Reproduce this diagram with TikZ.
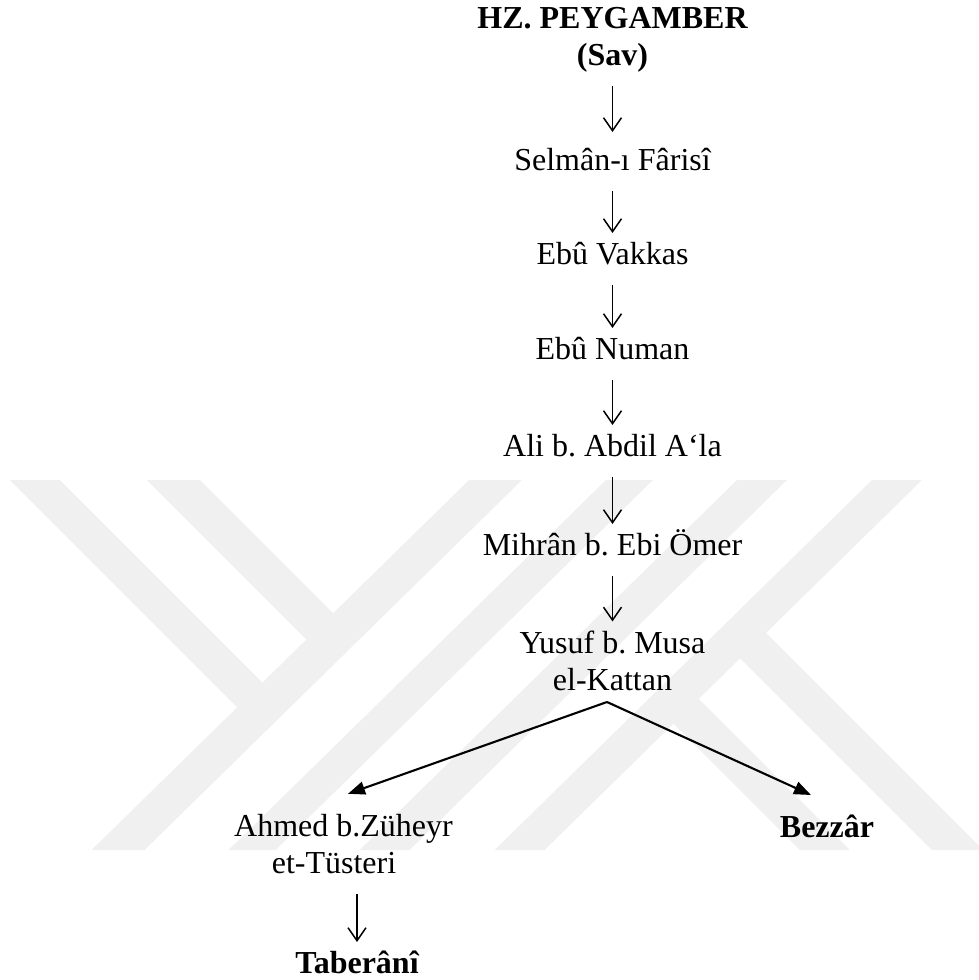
\documentclass[tikz,border=0pt]{standalone}
\usepackage{fontspec}
\setmainfont{Liberation Serif}
\usetikzlibrary{arrows.meta}
\newcommand{\dstrut}{\rule[-7pt]{0pt}{22pt}}

\begin{document}
\begin{tikzpicture}[x=1pt,y=-1pt,
  ravi/.style={anchor=base,inner sep=0pt,outer sep=0pt,align=center,
    font=\fontsize{32}{37}\selectfont\frenchspacing,text height=22pt,execute at end node=\dstrut},
  tworavi/.style={ravi,text height=},
  boldravi/.style={ravi,font=\fontsize{32}{37}\selectfont\frenchspacing\bfseries},
  chainarrow/.style={line width=1.5pt,-{Straight Barb[length=13pt,width=18pt]},
    shorten <=14pt,shorten >=9pt},
  forkarrow/.style={line width=2.1pt,-{Triangle[length=17pt,width=13pt]}},
  logo/.style={fill=black!6,draw=none}]
\useasboundingbox (0,0) rectangle (979,980);
% watermark
\fill[logo] (10,480)--(60,480)--(267.5,687.5)--(242,712)--cycle;
\fill[logo] (147,480)--(200,480)--(338,618)--(311,644)--cycle;
\fill[logo] (469,480)--(522,480)--(144.6,850)--(91.6,850)--cycle;
\fill[logo] (606,480)--(653,480)--(275.6,850)--(228.6,850)--cycle;
\fill[logo] (737,480)--(787,480)--(409.6,850)--(359.6,850)--cycle;
\fill[logo] (872,480)--(922,480)--(544.6,850)--(494.6,850)--cycle;
\fill[logo] (761,628)--(979,846)--(979,850)--(932,850)--(735,653)--cycle;
\fill[logo] (693.8,693.8)--(850,850)--(800,850)--(668.6,718.6)--cycle;

\node[boldravi,text height=] (peyg) at (612.5,65) {HZ. PEYGAMBER\\(Sav)};
\node[ravi] (selman) at (612.5,170) {Selmân-ı Fârisî};
\node[ravi] (vakkas) at (612.5,264) {Ebû Vakkas};
\node[ravi] (numan) at (612.5,359) {Ebû Numan};
\node[ravi] (ali) at (612.5,456) {Ali b. Abdil A‘la};
\node[ravi] (mihran) at (612.5,555) {Mihrân b. Ebi Ömer};
\node[tworavi] (yusuf) at (612.5,690) {Yusuf b. Musa\\el-Kattan};
\node[tworavi] (ahmed) at (343.5,873) {Ahmed b.Züheyr\\et-Tüsteri\hspace*{19pt}};
\node[boldravi] (bezzar) at (827,837) {Bezzâr};
\node[boldravi] (taberani) at (357,973) {Taberânî};

\draw[chainarrow,shorten >=16pt] (peyg) -- (selman);
\draw[chainarrow] (selman) -- (vakkas);
\draw[chainarrow] (vakkas) -- (numan);
\draw[chainarrow] (numan) -- (ali);
\draw[chainarrow] (ali) -- (mihran);
\draw[chainarrow] (mihran) -- (yusuf);
\draw[forkarrow] ([xshift=-5.5pt,yshift=-5pt]yusuf.south) -- ([xshift=4.5pt,yshift=20pt]ahmed.north);
\draw[forkarrow] ([xshift=-5.5pt,yshift=-5pt]yusuf.south) -- ([xshift=-16pt,yshift=20pt]bezzar.north);
\draw[chainarrow] (ahmed.south -| taberani.north) -- (taberani.north);
\end{tikzpicture}
\end{document}
